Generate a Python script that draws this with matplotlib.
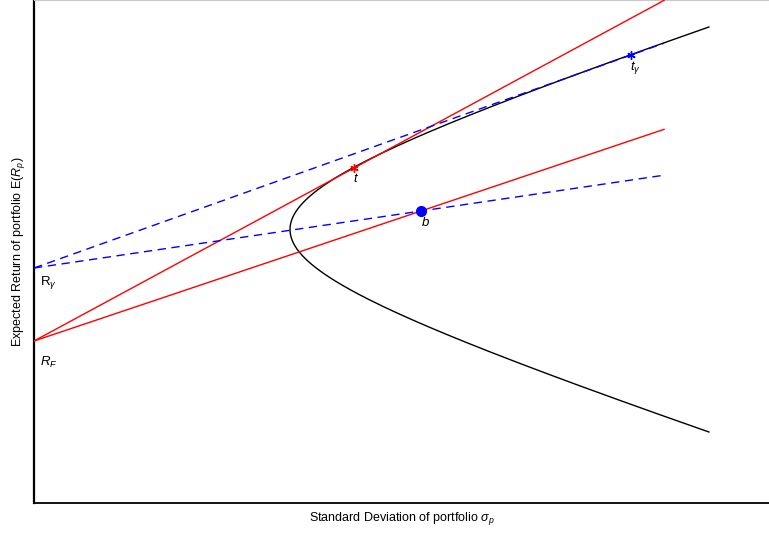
import numpy as np
import matplotlib.pyplot as plt

plt.rcParams['font.family'] = ['Liberation Sans', 'DejaVu Sans']
plt.rcParams['mathtext.fontset'] = 'custom'
plt.rcParams['mathtext.rm'] = 'Liberation Sans'
plt.rcParams['mathtext.it'] = 'Liberation Sans:italic'

# efficient frontier: sigma^2 = gmv_sigma^2 + curv * (mu - gmv_mu)^2
gmv_sigma = 256.0
gmv_mu = 273.5
curv = 9.51
mu_range = [71.0, 476.0]

# riskless rates and portfolios (sigma, mu)
rf = 162.0
r_gamma = 235.0
t_pt = [320.0, 335.0]
b_pt = [387.0, 292.0]
tg_pt = [597.0, 448.0]
line_end = 630.0

fig = plt.figure(figsize=(7.69, 5.33), dpi=100)
ax = fig.add_axes([34 / 769, 30 / 533, 735 / 769, 503 / 533])

mu = np.linspace(mu_range[0], mu_range[1], 400)
sig = np.sqrt(gmv_sigma ** 2 + curv * (mu - gmv_mu) ** 2)
ax.plot(sig, mu, color='black', lw=1.0, zorder=2)

def ray(r0, pt):
    slope = (pt[1] - r0) / pt[0]
    return [0, line_end], [r0, r0 + slope * line_end]

xs, ys = ray(rf, t_pt)
ax.plot(xs, ys, color='red', lw=1.0, zorder=3)
xs, ys = ray(rf, b_pt)
ax.plot(xs, ys, color='red', lw=1.0, zorder=3)
xs, ys = ray(r_gamma, tg_pt)
ax.plot(xs, ys, color='blue', lw=1.0, ls=(0, (6, 4)), zorder=4)
xs, ys = ray(r_gamma, b_pt)
ax.plot(xs, ys, color='blue', lw=1.0, ls=(0, (6, 4)), zorder=4)

star = (6, 2, 0)
ax.plot(*t_pt, marker=star, color='red', ms=6, mew=1.0, zorder=5)
ax.plot(*tg_pt, marker=star, color='blue', ms=6, mew=1.0, zorder=5)
ax.plot(*b_pt, marker='o', color='blue', ms=7, zorder=5)

fs = 9.5
ax.text(t_pt[0] + 2, t_pt[1] - 10, '$t$', fontsize=fs, ha='center', va='center')
ax.text(b_pt[0] + 4, b_pt[1] - 11, '$b$', fontsize=fs, ha='center', va='center')
ax.text(tg_pt[0] + 4, tg_pt[1] - 12, r'$t_{\gamma}$', fontsize=fs, ha='center', va='center')
ax.text(6, r_gamma - 14, r'R$_{\gamma}$', fontsize=fs, ha='left', va='center')
ax.text(6, rf - 21, r'$R_F$', fontsize=fs, ha='left', va='center')

ax.set_xlim(0, 735)
ax.set_ylim(0, 503)
ax.set_xticks([])
ax.set_yticks([])
ax.spines['right'].set_visible(False)
ax.spines['top'].set_color('#c8c8c8')
ax.spines['left'].set_linewidth(1.6)
ax.spines['bottom'].set_linewidth(1.3)

ax.set_xlabel(r'Standard Deviation of portfolio $\sigma_p$', fontsize=9, labelpad=5)
ax.set_ylabel(r'Expected Return of portfolio E($R_p$)', fontsize=9, labelpad=5)

fig.savefig('out.png', dpi=100)
